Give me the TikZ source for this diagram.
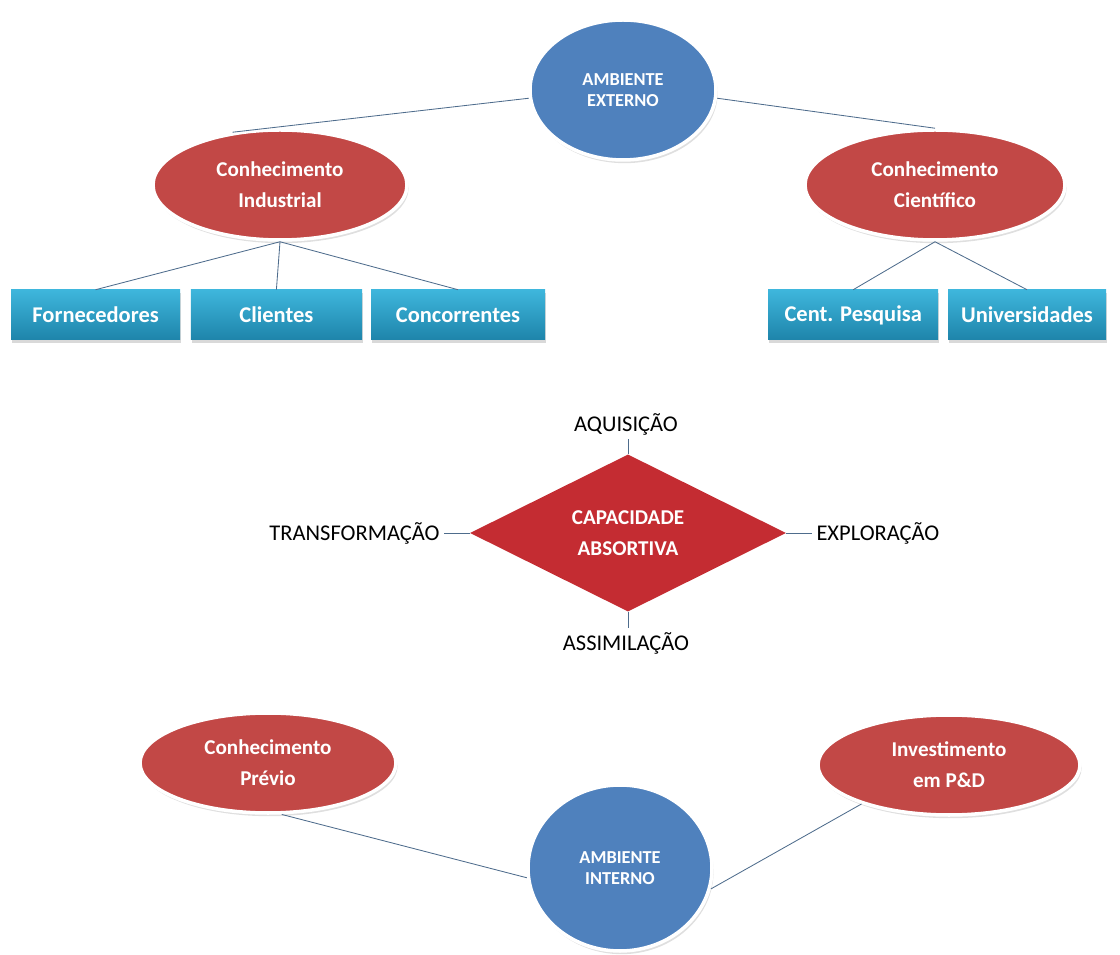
\documentclass[tikz,border=0pt]{standalone}
\usepackage{fontspec}
\setmainfont{Carlito}
\usetikzlibrary{shapes.geometric,shadows}
\definecolor{AmbClr}{RGB}{79,129,189}
\definecolor{ConClr}{RGB}{194,72,70}
\definecolor{CapClr}{RGB}{196,44,50}
\definecolor{BoxTop}{RGB}{62,182,220}
\definecolor{BoxBot}{RGB}{30,132,170}
\definecolor{LinkClr}{RGB}{78,108,140}

\begin{document}
\begin{tikzpicture}[
  ambiente/.style={ellipse,fill=AmbClr,draw=white,line width=2.5pt,
    drop shadow={opacity=0.25,shadow xshift=0.04cm,shadow yshift=-0.08cm},
    text=white,font=\bfseries\fontsize{13}{15}\selectfont,align=center},
  conhec/.style={ellipse,fill=ConClr,draw=white,line width=2.5pt,
    drop shadow={opacity=0.25,shadow xshift=0.04cm,shadow yshift=-0.08cm},
    text=white,font=\bfseries\fontsize{15}{22}\selectfont,align=center,
    minimum height=2.75cm},
  fonte/.style={rectangle,top color=BoxTop,bottom color=BoxBot,
    drop shadow={opacity=0.3,shadow xshift=0.03cm,shadow yshift=-0.07cm},
    text=white,font=\bfseries\fontsize{16}{18}\selectfont,minimum height=1.25cm},
  capac/.style={diamond,fill=CapClr,inner sep=0pt,
    minimum width=7.9cm,minimum height=3.875cm,
    text=white,font=\bfseries\fontsize{15}{22}\selectfont,align=center},
  etapa/.style={font=\fontsize{16}{18}\selectfont,inner sep=3pt},
  liga/.style={draw=LinkClr,line width=0.6pt}]

\useasboundingbox (0,0) rectangle (28,23.875);

\node[ambiente,minimum width=4.65cm,minimum height=3.5cm] (ext) at (15.575,21.625) {AMBIENTE\\EXTERNO};
\node[conhec,minimum width=6.35cm] (ind) at (7.0,19.25) {Conhecimento\\Industrial};
\node[conhec,minimum width=6.5cm] (sci) at (23.375,19.25) {Conhecimento\\Científico};

\node[fonte,minimum width=4.22cm] (forn) at (2.39,16.0) {Fornecedores};
\node[fonte,minimum width=4.28cm] (cli) at (6.91,16.0) {Clientes};
\node[fonte,minimum width=4.35cm] (conc) at (11.45,16.0) {Concorrentes};
\node[fonte,minimum width=4.25cm] (cent) at (21.33,16.0) {Cent. Pesquisa};
\node[fonte,minimum width=3.95cm] (univ) at (25.675,16.0) {Universidades};

\node[capac] (cap) at (15.7,10.55) {CAPACIDADE\\ABSORTIVA};
\node[etapa] (aqu) at (15.65,13.275) {AQUISIÇÃO};
\node[etapa] (ass) at (15.65,7.8) {ASSIMILAÇÃO};
\node[etapa,anchor=east] (tra) at (11.1,10.55) {TRANSFORMAÇÃO};
\node[etapa,anchor=west] (exp) at (20.3,10.55) {EXPLORAÇÃO};

\node[conhec,minimum width=6.4cm,minimum height=2.5cm] (prev) at (6.7,4.8) {Conhecimento\\Prévio};
\node[conhec,minimum width=6.55cm,minimum height=2.5cm] (inv) at (23.725,4.75) {Investimento\\em P\&D};
\node[ambiente,minimum width=4.6cm,minimum height=4.15cm] (int) at (15.5,2.175) {AMBIENTE\\INTERNO};

\draw[liga] (ext.185) -- (ind.132);
\draw[liga] (ext.355) -- (sci.north);
\draw[liga] (ind.south) -- (forn.north);
\draw[liga] (ind.south) -- (cli.north);
\draw[liga] (ind.south) -- (conc.north);
\draw[liga] (sci.south) -- (cent.north);
\draw[liga] (sci.south) -- (univ.north);

\draw[liga] (cap.north) -- (cap.north |- aqu.south);
\draw[liga] (cap.south) -- (cap.south |- ass.north);
\draw[liga] (cap.west) -- (tra.east);
\draw[liga] (cap.east) -- (exp.west);

\draw[liga] (int.186) -- (prev.285);
\draw[liga] (int.347) -- (inv.204);

\end{tikzpicture}
\end{document}
